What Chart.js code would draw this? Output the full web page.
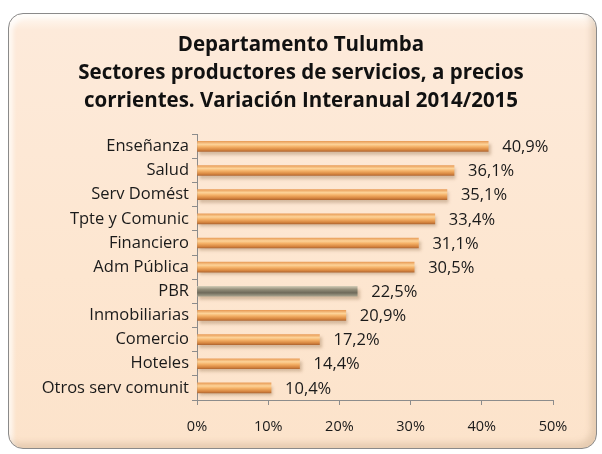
<!DOCTYPE html>
<html>
<head>
<meta charset="utf-8">
<script src="https://cdn.jsdelivr.net/npm/chart.js@4"></script>
<style>
  body { margin: 0; background: #fff; }
  #wrap { position: relative; width: 602px; height: 454px; }
  #frame {
    position: absolute; left: 8px; top: 13px; width: 587px; height: 434px;
    border: 1px solid #8a8a8a; border-radius: 15px;
    background: linear-gradient(to bottom, #fffaf4 0px, #fdeada 16px, #fde6d0 60%, #fce3cb 100%);
    box-shadow: inset -5px -5px 6px rgba(190,160,130,0.35), inset 4px 4px 4px rgba(255,255,255,0.7);
  }
  canvas { position: absolute; left: 0; top: 0; }
</style>
</head>
<body>
<div id="wrap">
  <div id="frame"></div>
  <canvas id="chart" width="602" height="454"></canvas>
</div>
<script>
var sectores = ['Enseñanza', 'Salud', 'Serv Domést', 'Tpte y Comunic', 'Financiero', 'Adm Pública',
    'PBR', 'Inmobiliarias', 'Comercio', 'Hoteles', 'Otros serv comunit'];
var variacion = [40.9, 36.1, 35.1, 33.4, 31.1, 30.5, 22.5, 20.9, 17.2, 14.4, 10.4];
var etiquetas = ['40,9%', '36,1%', '35,1%', '33,4%', '31,1%', '30,5%', '22,5%', '20,9%', '17,2%', '14,4%', '10,4%'];
var titulo = ['Departamento Tulumba', 'Sectores productores de servicios, a precios', 'corrientes. Variación Interanual 2014/2015'];

var fontName = '"Open Sans", Lato, sans-serif';

function barFill(context) {
    var chart = context.chart;
    var y = chart.scales && chart.scales.y;
    var cy = y ? y.getPixelForValue(context.dataIndex) : NaN;
    if (!isFinite(cy)) {
        return '#f5b56e';
    }
    var g = chart.ctx.createLinearGradient(0, cy - 5, 0, cy + 5);
    if (sectores[context.dataIndex] === 'PBR') {
        g.addColorStop(0, '#cfc8b2');
        g.addColorStop(0.35, '#8e8975');
        g.addColorStop(0.65, '#6e6a5a');
        g.addColorStop(1, '#a7a28d');
    } else {
        g.addColorStop(0, '#e99e5a');
        g.addColorStop(0.3, '#fdd398');
        g.addColorStop(0.55, '#f4b066');
        g.addColorStop(0.85, '#d6853f');
        g.addColorStop(1, '#b46a33');
    }
    return g;
}

// soft shadow under the bars
var barShadow = {
    id: 'barShadow',
    beforeDatasetsDraw: function(chart) {
        var ctx = chart.ctx;
        ctx.save();
        ctx.shadowColor = 'rgba(120,80,40,0.3)';
        ctx.shadowOffsetX = 2;
        ctx.shadowOffsetY = 3;
        ctx.shadowBlur = 3;
    },
    afterDatasetsDraw: function(chart) {
        chart.ctx.restore();
    }
};

// value labels at the end of each bar
var valueLabels = {
    id: 'valueLabels',
    afterDatasetsDraw: function(chart) {
        var ctx = chart.ctx;
        var meta = chart.getDatasetMeta(0);
        ctx.save();
        ctx.font = '16.5px ' + fontName;
        ctx.fillStyle = '#1a1a1a';
        ctx.textAlign = 'left';
        ctx.textBaseline = 'middle';
        meta.data.forEach(function(bar, i) {
            ctx.fillText(etiquetas[i], bar.x + 14, bar.y + 1);
        });
        ctx.restore();
    }
};

var ctx = document.getElementById('chart').getContext('2d');
new Chart(ctx, {
    type: 'bar',
    data: {
        labels: sectores,
        datasets: [{
            data: variacion,
            backgroundColor: barFill,
            borderWidth: 0,
            barThickness: 10
        }]
    },
    options: {
        indexAxis: 'y',
        responsive: false,
        animation: false,
        layout: { padding: 0 },
        plugins: {
            legend: { display: false },
            tooltip: { enabled: false },
            title: {
                display: true,
                text: titulo,
                color: '#111',
                font: { family: fontName, size: 20.5, weight: 'bold', lineHeight: 1.37 },
                padding: { top: 31, bottom: 19 }
            }
        },
        scales: {
            x: {
                min: 0,
                max: 50,
                afterFit: function(scale) {
                    scale.height = 54;
                    scale.paddingRight = 49;
                },
                ticks: {
                    stepSize: 10,
                    padding: 13,
                    color: '#1a1a1a',
                    font: { family: fontName, size: 14.5 },
                    callback: function(v) { return v + '%'; }
                },
                grid: { drawOnChartArea: false, color: '#8c8c8c', tickLength: 5 },
                border: { color: '#8c8c8c' }
            },
            y: {
                afterFit: function(scale) { scale.width = 197; },
                ticks: {
                    padding: 3,
                    color: '#1a1a1a',
                    font: { family: fontName, size: 16.5 }
                },
                grid: { drawOnChartArea: false, offset: true, color: '#8c8c8c', tickLength: 5 },
                border: { color: '#8c8c8c' }
            }
        }
    },
    plugins: [barShadow, valueLabels]
});
</script>
</body>
</html>
